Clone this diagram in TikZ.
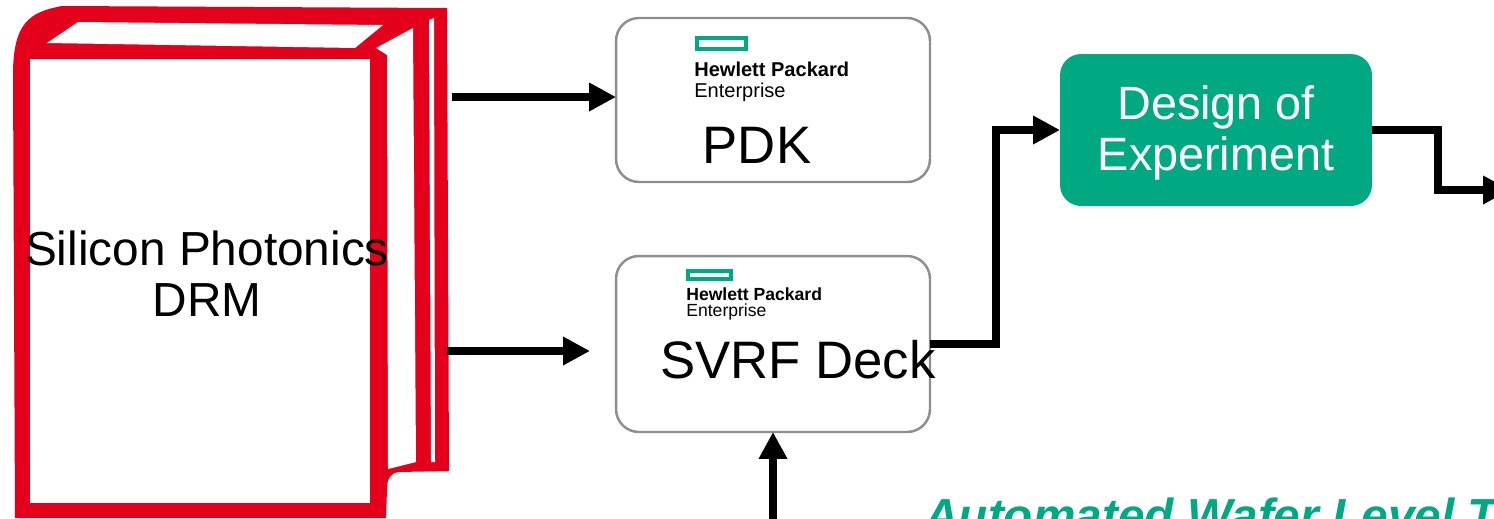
\documentclass[tikz,border=0pt]{standalone}
\usepackage{fontspec}
\setmainfont{Liberation Sans}
\usetikzlibrary{arrows.meta,positioning}
\definecolor{hpegreen}{HTML}{01A982}
\definecolor{bookred}{HTML}{E4001B}
\definecolor{cardgray}{HTML}{8E8E8E}

\begin{document}
\begin{tikzpicture}[x=0.02cm,y=-0.02cm,
    flow/.style={line width=4.8pt,-{Triangle[length=15.3pt,width=15.3pt]}},
    card/.style={draw=cardgray,line width=1.4pt,rounded corners=13pt,inner sep=0pt,outer sep=0pt},
    big/.style={inner sep=0pt,font=\fontsize{30}{32}\selectfont},
    logo/.style={inner sep=0pt,anchor=base west}]
      \useasboundingbox (0,0) rectangle (1494,518);
      \clip (0,0) rectangle (1494,518);

      % the book
      \fill[bookred] (13,75) .. controls (13,22) and (30,12) .. (62,6)
        -- (447,8) -- (449,471) -- (398,472)
        .. controls (389,474) and (387,480) .. (387,490)
        -- (386,518) -- (15,518) -- cycle;
      \fill[white] (30,59) rectangle (370,503);
      \fill[white] (47,43) -- (78,22) -- (383,25) -- (355,48) -- cycle;
      \fill[white] (387,55) -- (376,48) -- (413,28) -- (416,462) -- (388,469) -- cycle;
      \fill[white] (429,20) -- (434,18) -- (435,462) -- (431,462) -- cycle;
      \node[inner sep=0pt,anchor=base,font=\fontsize{27.2}{29}\selectfont] (drm) at (207,265) {Silicon Photonics};
      \node[inner sep=0pt,anchor=base,font=\fontsize{27.2}{29}\selectfont] (drmb) at (207,316) {DRM};

      % the two decks
      \node[card,minimum width=6.28cm,minimum height=3.28cm] (pdk) at (773,100) {};
      \node[card,minimum width=6.28cm,minimum height=3.52cm] (svrf) at (773,344) {};

      \draw[hpegreen,line width=2.2pt] (697,38) rectangle (746,49);
      \node[logo,font=\bfseries\fontsize{11.4}{12}\selectfont] (hpea) at (694,76) {Hewlett Packard};
      \node[logo,font=\fontsize{11.4}{12}\selectfont] (hpeb) at (694,97) {Enterprise};
      \node[big,anchor=base] (pdktext) at (757,163) {PDK};

      \draw[hpegreen,line width=2pt] (688,271) rectangle (731,279);
      \node[logo,font=\bfseries\fontsize{10}{11}\selectfont] (hpec) at (686,300) {Hewlett Packard};
      \node[logo,font=\fontsize{10}{11}\selectfont] (hped) at (686,316) {Enterprise};
      \node[big,anchor=base] (svrftext) at (798,378) {SVRF Deck};

      % design of experiment
      \node[fill=hpegreen,rounded corners=12pt,inner sep=0pt,outer sep=0pt,
        minimum width=6.24cm,minimum height=3.04cm] (doe) at (1216,130) {};
      \node[inner sep=0pt,anchor=base,text=white,font=\fontsize{26.6}{28}\selectfont] (doea) at (1216,119) {Design of};
      \node[inner sep=0pt,anchor=base,text=white,font=\fontsize{26.6}{28}\selectfont] (doeb) at (1216,170) {Experiment};

      \node[inner sep=0pt,anchor=base west,text=hpegreen,
        font=\bfseries\itshape\fontsize{27.2}{29}\selectfont] (awlt) at (924,532) {Automated Wafer Level T};

      % arrows
      \coordinate (out1) at (452,97);
      \coordinate (out2) at (447,351);
      \coordinate (in2) at (590,351);
      \coordinate (feed) at (773,530);
      \coordinate (next) at (1510,190);
      \draw[flow] (out1) -- (out1 -| pdk.west);
      \draw[flow] (out2) -- (in2);
      \draw[flow] (svrf.east) -- ++(66,0) |- (doe.west);
      \draw[flow] (doe.east) -- ++(66,0) |- (next);
      \draw[flow] (feed) -- (svrf.south);
\end{tikzpicture}
\end{document}
